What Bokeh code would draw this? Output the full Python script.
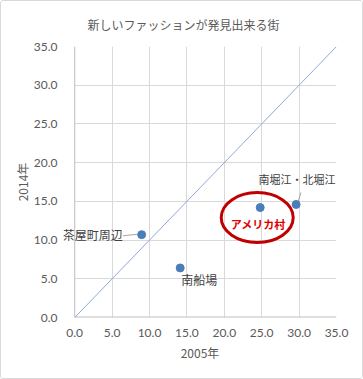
from bokeh.plotting import figure
from bokeh.models import (Range1d, FixedTicker, NumeralTickFormatter, ColumnDataSource,
                          Label, BoxAnnotation, Span)
from bokeh.embed import file_html
from bokeh.resources import INLINE

# ---- data ----
names = ["茶屋町周辺", "南船場", "アメリカ村", "南堀江・北堀江"]
x2005 = [8.95, 14.1, 24.8, 29.6]
y2014 = [10.7, 6.4, 14.2, 14.6]
diag_x = [0, 35]
diag_y = [0, 35]
ticks = [0, 5, 10, 15, 20, 25, 30, 35]
title_text = "新しいファッションが発見出来る街"
x_title = "2005年"
y_title = "2014年"

X_MIN, X_MAX, Y_MIN, Y_MAX = 0, 35, 0, 35
X_PAD = 1.5   # extra room left of the y axis so the left label is not clipped

JP = "Noto Sans CJK JP"
NUM = "Lato"
GRAY = "#595959"
AXIS = "#bfbfbf"

p = figure(width=363, height=379, output_backend="svg", toolbar_location=None,
           x_range=Range1d(X_MIN - X_PAD, X_MAX), y_range=Range1d(Y_MIN, Y_MAX),
           min_border_left=62, min_border_right=28, min_border_top=45, min_border_bottom=63)
p.styles = {"border": "1px solid #d9d9d9", "box-sizing": "border-box", "border-radius": "3px"}
p.outline_line_color = None
p.background_fill_color = "white"
p.border_fill_color = "white"

p.title.text = title_text
p.title.align = "left"
p.title.vertical_align = "top"
p.title.text_font = JP
p.title.text_font_size = "12px"
p.title.text_font_style = "normal"
p.title.text_color = GRAY
p.title.offset = 24
p.title.standoff = 24

for ax in (p.xaxis, p.yaxis):
    ax.ticker = FixedTicker(ticks=ticks)
    ax.formatter = NumeralTickFormatter(format="0.0")
    ax.major_tick_line_color = None
    ax.minor_tick_line_color = None
    ax.axis_line_color = None
    ax.major_label_text_color = GRAY
    ax.major_label_text_font = NUM
    ax.major_label_text_font_size = "12px"
    ax.axis_label_text_color = GRAY
    ax.axis_label_text_font = JP
    ax.axis_label_text_font_size = "12px"
    ax.axis_label_text_font_style = "normal"
p.xaxis.axis_label = x_title
p.yaxis.axis_label = y_title
p.xaxis.major_label_standoff = 5
p.yaxis.major_label_standoff = 0
p.xaxis.axis_label_standoff = 4
p.yaxis.axis_label_standoff = 0

p.grid.grid_line_color = "#d9d9d9"

# hide the grid stubs left of x = 0 and draw the axis lines at the data origin
p.add_layout(BoxAnnotation(left=X_MIN - X_PAD, right=X_MIN, fill_color="white", fill_alpha=1,
                           line_color=None))
p.add_layout(Span(location=X_MIN, dimension="height", line_color=AXIS, line_width=1))
p.segment(x0=[X_MIN], y0=[Y_MIN], x1=[X_MAX], y1=[Y_MIN], line_color=AXIS, line_width=2)

# diagonal
p.line(diag_x, diag_y, line_color="#8eaad4", line_width=1)

src = ColumnDataSource(dict(x=x2005, y=y2014, name=names))

# leader lines (offsets in data units from points)
p.segment(x0=[x2005[0] - 2.5], y0=[y2014[0] - 0.15], x1=[x2005[0] - 0.6], y1=[y2014[0] + 0.05],
          line_color="#a6a6a6", line_width=1)
p.segment(x0=[x2005[3] + 0.3], y0=[y2014[3] + 0.45], x1=[x2005[3] + 0.65], y1=[y2014[3] + 1.55],
          line_color="#a6a6a6", line_width=1)

# highlight ellipse
p.ellipse(x=[x2005[2] - 0.4], y=[y2014[2] - 1.3], width=72, height=50,
          width_units="screen", height_units="screen",
          fill_color=None, line_color="#c00000", line_width=3)

p.scatter("x", "y", source=src, size=8, fill_color="#4a7ebb", line_color="#4a7ebb")

# point labels
def lab(i, dx, dy, align, **kw):
    opts = dict(text_font=JP, text_font_size="12px", text_color="#404040")
    opts.update(kw)
    p.add_layout(Label(x=x2005[i], y=y2014[i], text=names[i], x_offset=dx, y_offset=dy,
                       text_align=align, text_baseline="middle", **opts))

lab(0, -19, 0, "right")
lab(1, 1, -12, "left")
lab(3, 1, 25, "center", text_font_size="11px")
lab(2, -2, -16, "center", text_font_size="11px", text_font_style="bold", text_color="#e00000")

open("out.html", "w").write(file_html(p, INLINE))
